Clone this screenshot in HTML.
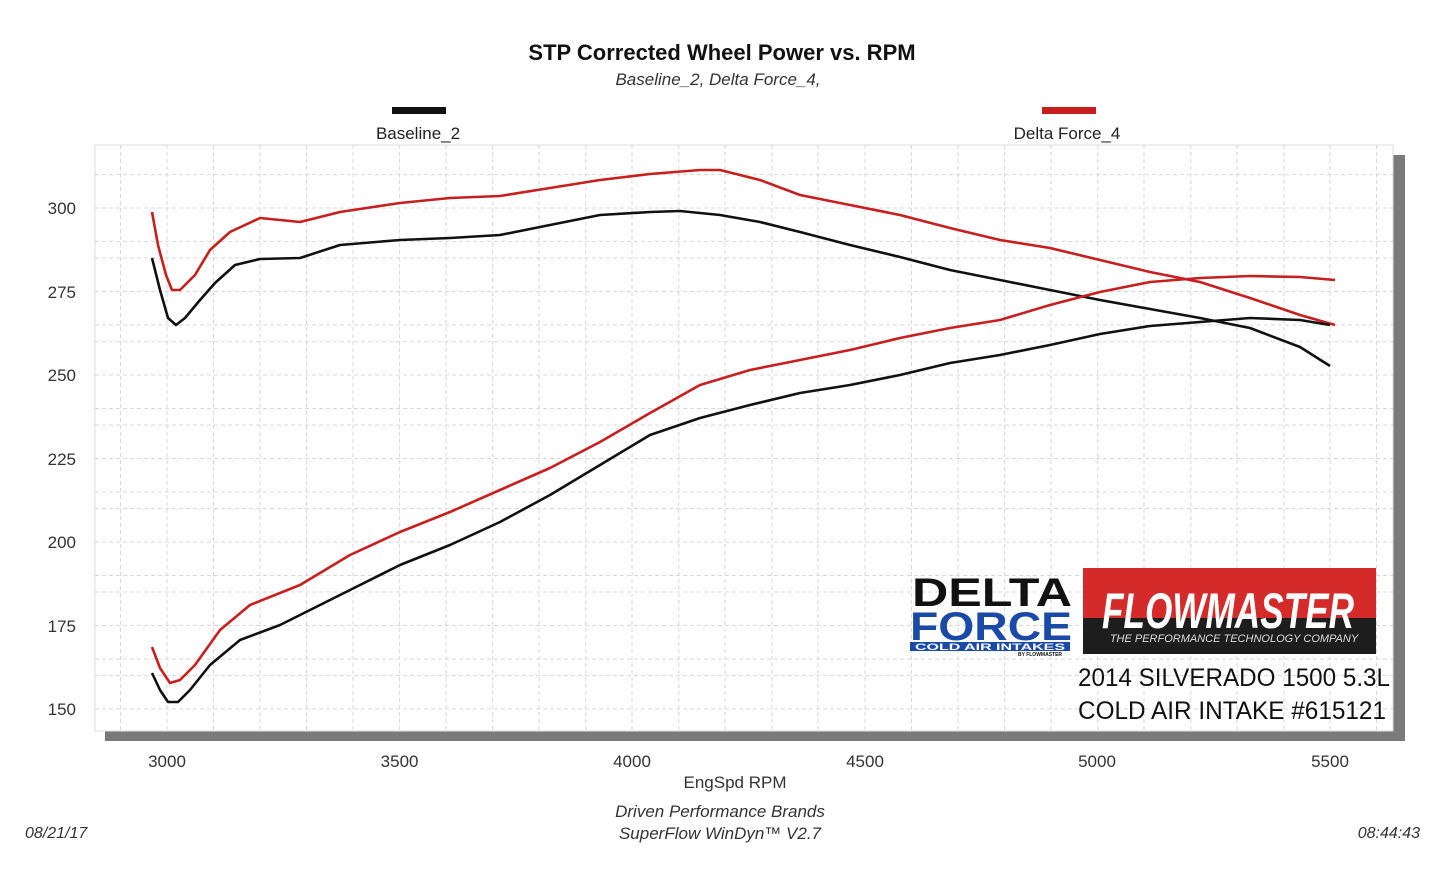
<!DOCTYPE html>
<html><head><meta charset="utf-8"><style>
body{margin:0;background:#fff;}
svg{display:block;font-family:"Liberation Sans",sans-serif;}
</style></head><body>
<svg width="1445" height="877" viewBox="0 0 1445 877">
<rect width="1445" height="877" fill="#fff"/>
<text x="722" y="60" text-anchor="middle" font-size="22" font-weight="bold" fill="#111">STP Corrected Wheel Power vs. RPM</text>
<text x="718" y="85" text-anchor="middle" font-size="17" font-style="italic" fill="#333">Baseline_2, Delta Force_4,</text>
<rect x="392" y="107" width="54" height="7" fill="#111"/>
<text x="418" y="139" text-anchor="middle" font-size="17" fill="#222">Baseline_2</text>
<rect x="1042" y="107" width="54" height="7" fill="#c81e1e"/>
<text x="1067" y="139" text-anchor="middle" font-size="17" fill="#222">Delta Force_4</text>
<!-- shadow -->
<rect x="105" y="155" width="1300" height="586" fill="#7a7a7a"/>
<rect x="95" y="145" width="1298" height="586" fill="#fff" stroke="#ddd"/>
<g stroke="#d8d8d8" stroke-dasharray="4,3" stroke-width="1">
<path d="M120.5 145V731M167 145V731M213.5 145V731M260 145V731M306.5 145V731M353 145V731M399.6 145V731M446 145V731M492.7 145V731M539 145V731M585.7 145V731M632 145V731M678.8 145V731M725 145V731M771.9 145V731M818 145V731M865 145V731M911.5 145V731M958 145V731M1004.6 145V731M1051 145V731M1097.7 145V731M1144 145V731M1190.8 145V731M1237 145V731M1283.9 145V731M1330 145V731M1376.5 145V731"/>
<path d="M95 174.6H1393M95 208H1393M95 241.4H1393M95 258H1393M95 291.5H1393M95 325H1393M95 341.7H1393M95 375H1393M95 408.5H1393M95 425H1393M95 458.5H1393M95 492H1393M95 508.5H1393M95 542H1393M95 575.5H1393M95 592H1393M95 625.5H1393M95 659H1393M95 675.6H1393M95 709H1393"/>
</g>
<g font-size="17" fill="#333" text-anchor="end">
<text x="76" y="214">300</text><text x="76" y="298">275</text><text x="76" y="381">250</text><text x="76" y="465">225</text><text x="76" y="548">200</text><text x="76" y="632">175</text><text x="76" y="715">150</text>
</g>
<g font-size="17" fill="#333" text-anchor="middle">
<text x="167" y="767">3000</text><text x="399.6" y="767">3500</text><text x="632" y="767">4000</text><text x="865" y="767">4500</text><text x="1097" y="767">5000</text><text x="1330" y="767">5500</text>
<text x="735" y="788">EngSpd  RPM</text>
<text x="720" y="817" font-style="italic">Driven Performance Brands</text>
<text x="720" y="839" font-style="italic">SuperFlow WinDyn™  V2.7</text>
</g>
<text x="25" y="838" font-size="16" font-style="italic" fill="#333">08/21/17</text>
<text x="1420" y="838" font-size="16" font-style="italic" fill="#333" text-anchor="end">08:44:43</text>
<g fill="none" stroke-width="2.6" stroke-linejoin="round">
<polyline stroke="#111" points="152,258 160,290 168,318 176,325 185,318 200,300 215,283 235,265 260,259 300,258 340,245 400,240 450,238 500,235 550,225 600,215 650,212 680,211 720,215 760,222 800,232 850,245 900,257 950,270 1000,280 1050,290 1100,300 1150,309 1200,318 1250,328 1300,347 1330,366"/>
<polyline stroke="#c81e1e" points="152,212 158,245 166,275 172,290 180,290 195,275 210,250 230,232 260,218 300,222 340,212 400,203 450,198 500,196 550,188 600,180 650,174 700,170 720,170 760,180 800,195 850,205 900,215 950,228 1000,240 1050,248 1100,260 1150,272 1200,282 1250,298 1300,315 1335,325"/>
<polyline stroke="#111" points="152,673 160,690 168,702 178,702 190,690 210,665 240,640 280,625 320,605 360,585 400,565 450,545 500,522 550,495 600,465 650,435 700,418 750,405 800,393 850,385 900,375 950,363 1000,355 1050,345 1100,334 1150,326 1200,322 1250,318 1300,320 1330,325"/>
<polyline stroke="#c81e1e" points="152,647 160,668 170,683 180,680 195,665 220,630 250,605 300,585 350,555 400,532 450,512 500,490 550,468 600,442 650,413 700,385 750,370 800,360 850,350 900,338 950,328 1000,320 1050,305 1100,292 1150,282 1200,278 1250,276 1300,277 1335,280"/>
</g>
<!-- logos -->
<text x="912" y="606" font-size="40" font-weight="bold" fill="#111" textLength="160" lengthAdjust="spacingAndGlyphs">DELTA</text>
<text x="910" y="640" font-size="40" font-weight="bold" fill="#1a4aa8" textLength="162" lengthAdjust="spacingAndGlyphs">FORCE</text>
<rect x="910" y="642" width="160" height="9" fill="#1a4aa8"/>
<text x="990" y="650" font-size="9" font-weight="bold" fill="#fff" text-anchor="middle" textLength="150" lengthAdjust="spacingAndGlyphs">COLD AIR INTAKES</text>
<text x="1040" y="656" font-size="5" font-weight="bold" fill="#111" text-anchor="middle">BY FLOWMASTER</text>
<rect x="1083" y="568" width="293" height="86" fill="#1d1d1d"/>
<rect x="1083" y="568" width="293" height="50" fill="#d42a2a"/>
<text x="1228" y="628" font-size="50" font-weight="bold" font-style="italic" fill="#fff" text-anchor="middle" textLength="252" lengthAdjust="spacingAndGlyphs">FLOWMASTER</text>
<text x="1234" y="642" font-size="11" font-style="italic" fill="#ddd" text-anchor="middle">THE PERFORMANCE TECHNOLOGY COMPANY</text>
<text x="1078" y="686" font-size="25" fill="#111" textLength="312" lengthAdjust="spacingAndGlyphs">2014 SILVERADO 1500 5.3L</text>
<text x="1078" y="719" font-size="25" fill="#111" textLength="308" lengthAdjust="spacingAndGlyphs">COLD AIR INTAKE #615121</text>
</svg>
</body></html>
